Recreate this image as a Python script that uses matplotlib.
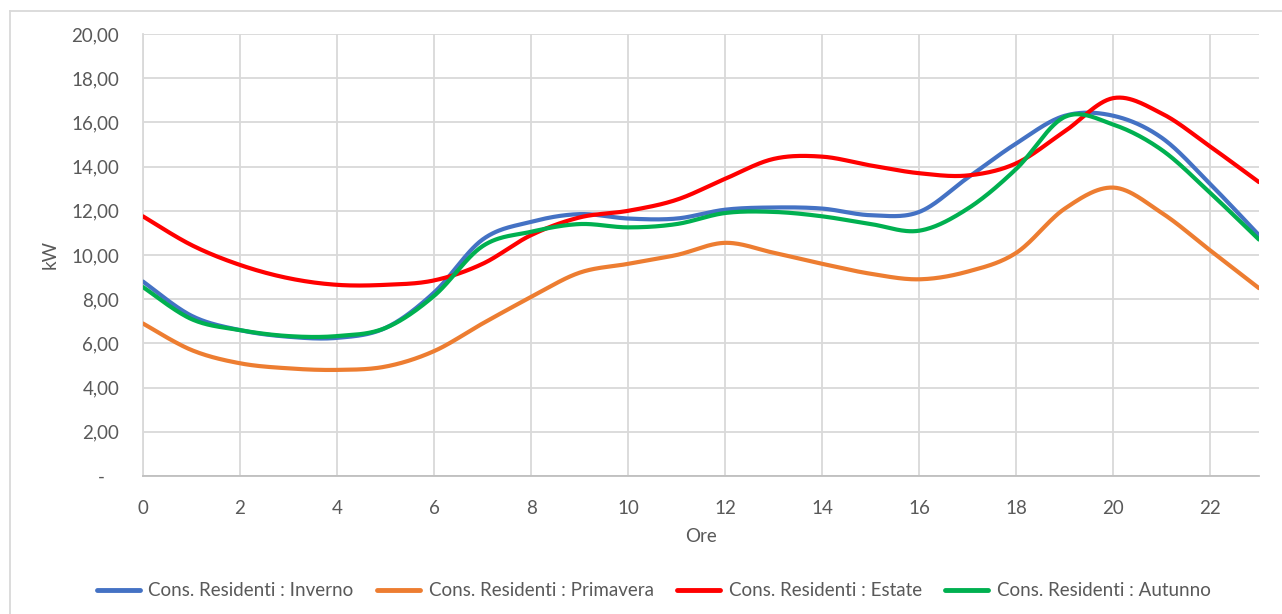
import numpy as np
import matplotlib.pyplot as plt
from matplotlib.lines import Line2D
from matplotlib.ticker import FuncFormatter

# Consumi medi orari (kW) per stagione
ore = list(range(24))
inverno = [8.8, 7.25, 6.6, 6.3, 6.25, 6.7, 8.3, 10.7, 11.5, 11.85, 11.65, 11.65,
           12.05, 12.15, 12.1, 11.8, 11.95, 13.5, 15.05, 16.3, 16.3, 15.3, 13.2, 10.9]
primavera = [6.9, 5.7, 5.1, 4.87, 4.8, 4.95, 5.65, 6.9, 8.1, 9.2, 9.6, 10.0,
             10.55, 10.1, 9.6, 9.15, 8.9, 9.25, 10.1, 12.1, 13.05, 11.9, 10.2, 8.5]
estate = [11.75, 10.45, 9.55, 8.95, 8.65, 8.65, 8.85, 9.6, 10.9, 11.7, 12.0, 12.5,
          13.45, 14.35, 14.45, 14.05, 13.7, 13.6, 14.15, 15.6, 17.1, 16.4, 14.9, 13.3]
autunno = [8.55, 7.1, 6.6, 6.33, 6.33, 6.7, 8.15, 10.4, 11.05, 11.4, 11.25, 11.4,
           11.9, 11.95, 11.75, 11.4, 11.1, 12.1, 13.9, 16.25, 15.9, 14.75, 12.8, 10.7]

serie = [
    ("Cons. Residenti : Inverno", inverno, "#4472C4"),
    ("Cons. Residenti : Primavera", primavera, "#ED7D31"),
    ("Cons. Residenti : Estate", estate, "#FF0000"),
    ("Cons. Residenti : Autunno", autunno, "#00B050"),
]


def smooth(x, y, n=30):
    # curva liscia stile Excel (Catmull-Rom / Bezier)
    x = np.asarray(x, float)
    y = np.asarray(y, float)
    xp = np.concatenate([[x[0]], x, [x[-1]]])
    yp = np.concatenate([[y[0]], y, [y[-1]]])
    xs, ys = [], []
    t = np.linspace(0, 1, n, endpoint=False)
    for i in range(len(x) - 1):
        p0 = np.array([xp[i + 1], yp[i + 1]])
        p3 = np.array([xp[i + 2], yp[i + 2]])
        c1 = p0 + (np.array([xp[i + 2], yp[i + 2]]) - np.array([xp[i], yp[i]])) / 6
        c2 = p3 - (np.array([xp[i + 3], yp[i + 3]]) - np.array([xp[i + 1], yp[i + 1]])) / 6
        for tt in t:
            b = ((1 - tt) ** 3) * p0 + 3 * ((1 - tt) ** 2) * tt * c1 \
                + 3 * (1 - tt) * tt ** 2 * c2 + tt ** 3 * p3
            xs.append(b[0])
            ys.append(b[1])
    xs.append(x[-1])
    ys.append(y[-1])
    return xs, ys


plt.rcParams['font.family'] = ['Lato', 'DejaVu Sans']
testo = '#595959'
griglia = '#D9D9D9'
fs = 13.5

fig = plt.figure(figsize=(12.82, 6.14), dpi=100)
ax = fig.add_axes([0.1115, 0.2248, 0.8705, 0.7198])

for nome, valori, colore in serie:
    xs, ys = smooth(ore, valori)
    ax.plot(xs, ys, color=colore, lw=3, solid_capstyle='round', label=nome, zorder=3)

ax.set_xlim(0, 23)
ax.set_ylim(0, 20)
ax.set_xticks(range(0, 24, 2))
ax.set_yticks(range(0, 21, 2))
ax.yaxis.set_major_formatter(FuncFormatter(lambda v, p: '-   ' if v == 0 else f"{v:.2f}".replace('.', ',')))
ax.grid(True, color=griglia, lw=1.3, zorder=0)
ax.tick_params(length=0, labelsize=fs, labelcolor=testo)
ax.tick_params(axis='y', pad=17)
ax.tick_params(axis='x', pad=17)
for s in ['top', 'right']:
    ax.spines[s].set_visible(False)
ax.spines['left'].set_color(griglia)
ax.spines['bottom'].set_color('#BFBFBF')
ax.spines['left'].set_linewidth(1.3)
ax.spines['bottom'].set_linewidth(1.3)

ax.set_xlabel("Ore", fontsize=fs, color=testo, labelpad=8)
ax.set_ylabel("kW", fontsize=fs, color=testo, labelpad=9)

maniglie = [Line2D([0], [0], color=c, lw=3.5, solid_capstyle='round') for _, _, c in serie]
fig.legend(maniglie, [n for n, _, _ in serie], loc='center', bbox_to_anchor=(0.51, 0.038),
           ncol=4, frameon=False, fontsize=fs, labelcolor=testo,
           handlelength=2.3, columnspacing=1.25, handletextpad=0.45)

# bordo del grafico
fig.add_artist(Line2D([10 / 1282, 10 / 1282], [0, 1 - 11 / 614], color=griglia, lw=1.3))
fig.add_artist(Line2D([10 / 1282, 1], [1 - 11 / 614, 1 - 11 / 614], color=griglia, lw=1.3))

fig.savefig("out.png", dpi=100)
